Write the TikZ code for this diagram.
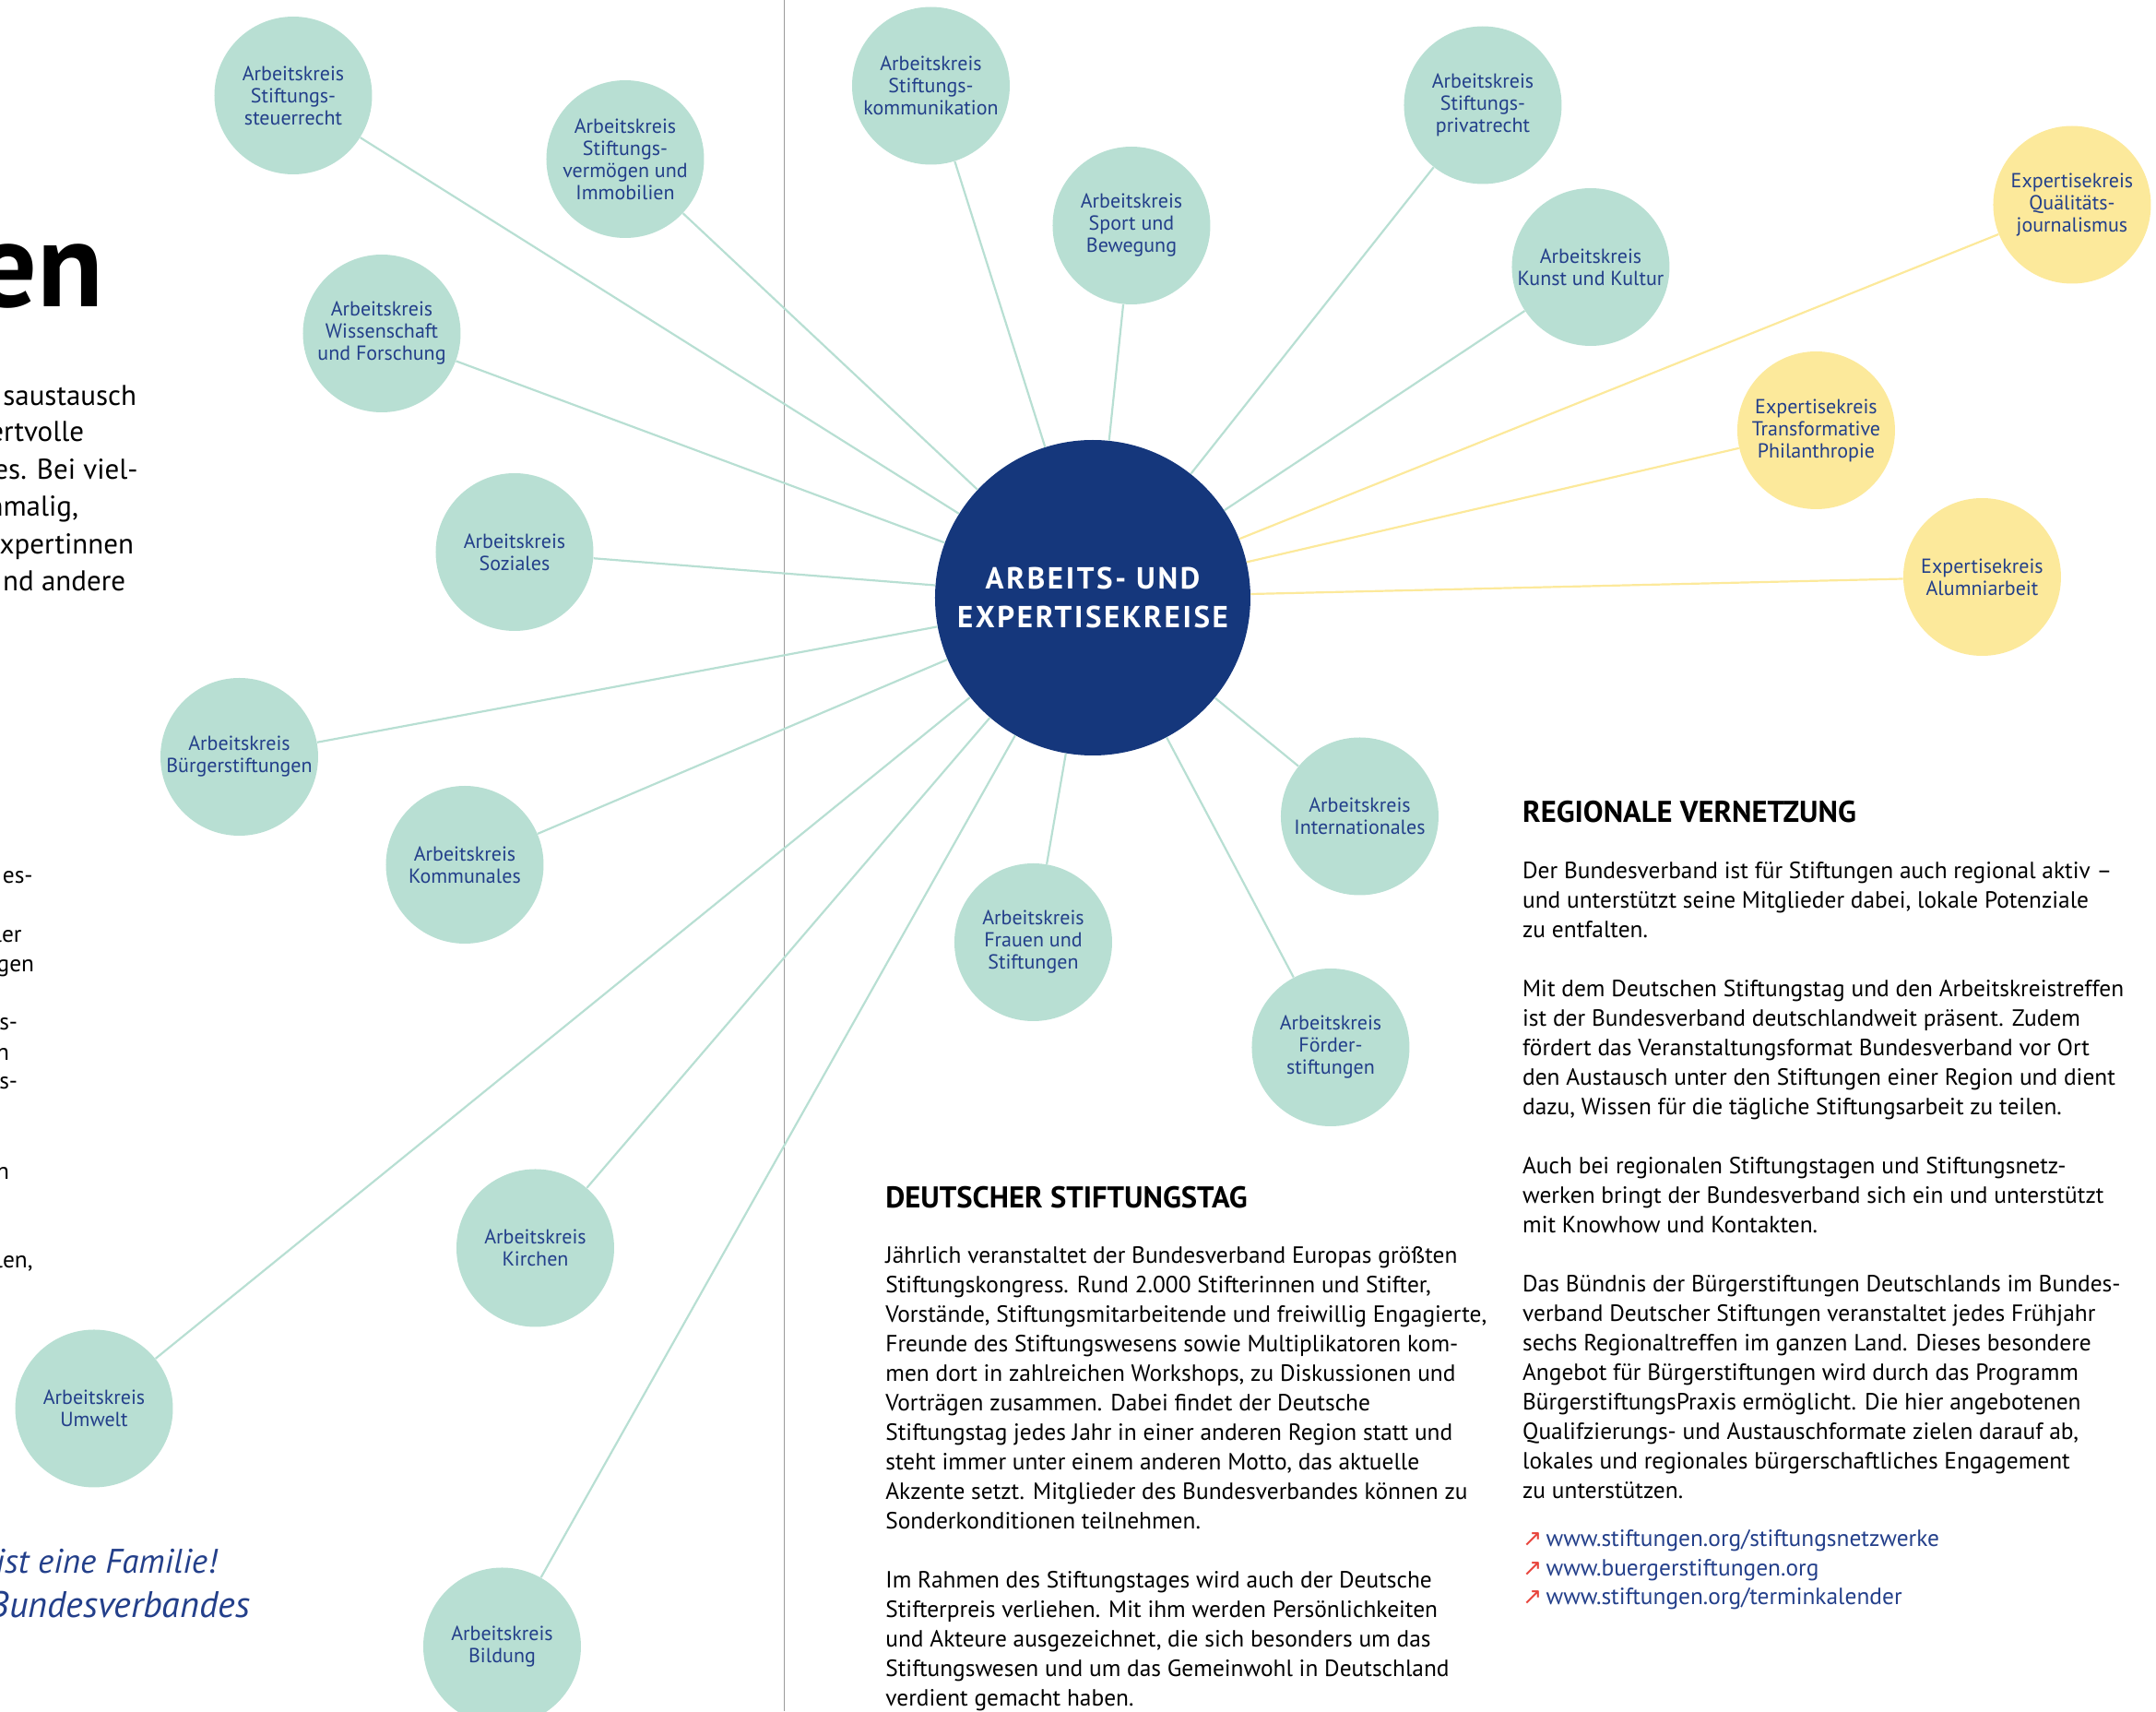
\documentclass[tikz,border=0pt]{standalone}
\usepackage{fontspec}
\setmainfont{PT Sans}
\newfontfamily\hubfont[LetterSpace=8.0]{PT Sans}
\newfontfamily\symfont{DejaVu Sans}
\definecolor{akgreen}{HTML}{B8DFD3}
\definecolor{akyellow}{HTML}{FCE99B}
\definecolor{aknavy}{HTML}{15377C}
\definecolor{aktext}{HTML}{233F8A}
\definecolor{akred}{HTML}{E8453C}
\definecolor{akgray}{HTML}{9B9B9B}
\begin{document}
\begin{tikzpicture}[x=0.75pt, y=-0.75pt,
  kreis/.style = {circle, minimum size=85.5pt, inner sep=0pt,
    fill=akgreen, text=aktext, align=center,
    font=\fontsize{11}{12}\selectfont},
  expkreis/.style = {kreis, fill=akyellow},
  hub/.style = {circle, minimum size=171pt, inner sep=0pt,
    fill=aknavy, text=white, align=center,
    font=\hubfont\bfseries\fontsize{16.5}{21}\selectfont},
  link/.style = {draw=akgreen, line width=1.1pt},
  explink/.style = {draw=akyellow, line width=1.1pt},
  fliess/.style = {anchor=base west, inner sep=0pt, align=left,
    font=\fontsize{12.7}{16}\selectfont},
  titel/.style = {anchor=base west, inner sep=0pt,
    font=\bfseries\fontsize{16.3}{18}\selectfont},
  rest/.style = {anchor=mid east, inner sep=0pt}]
  \useasboundingbox (0,0) rectangle (1558.7,1236.7);
  \clip (0,0) rectangle (1558.7,1236.7);
  \draw[akgray, line width=0.6pt] (567,0) -- (567,1236.7);

  % left page, cut off
  \node[anchor=base east, inner sep=0pt, font=\bfseries\fontsize{66}{70}\selectfont] (en) at (75,222) {en};
  \foreach \t/\x/\y in {saustausch/99/290, ertvolle/61/316, {es. Bei viel-}/100/343,
      {nmalig,}/57/370, xpertinnen/97/397, {nd andere}/91/424}
    \node[rest, font=\fontsize{15.5}{20}\selectfont] at (\x,\y) {\t};
  \foreach \t/\x/\y in {es-/24/635, ler/16/678, gen/25/699, s-/13/741,
      n/7/763, s-/13/784, n/7/849, {len,}/24/913}
    \node[rest, font=\fontsize{12.7}{16}\selectfont] at (\x,\y) {\t};
  \node[rest, text=aktext, font=\itshape\fontsize{18.5}{24}\selectfont] (familie) at (157,1134) {ist eine Familie!};
  \node[rest, text=aktext, font=\itshape\fontsize{20}{24}\selectfont] (verband) at (181,1166) {Bundesverbandes};

  % circles
  \node[hub] (hub) at (790,432) {ARBEITS- UND\\EXPERTISEKREISE};
  \node[kreis] (steuer) at (212,69) {Arbeitskreis\\Stiftungs-\\steuerrecht};
  \node[kreis] (vermoegen) at (452,115) {Arbeitskreis\\Stiftungs-\\vermögen und\\Immobilien};
  \node[kreis] (wissen) at (276,241) {Arbeitskreis\\Wissenschaft\\und Forschung};
  \node[kreis] (soziales) at (372,399) {Arbeitskreis\\Soziales};
  \node[kreis] (buerger) at (173,547) {Arbeitskreis\\Bürgerstiftungen};
  \node[kreis] (kommunal) at (336,625) {Arbeitskreis\\Kommunales};
  \node[kreis] (umwelt) at (68,1018) {Arbeitskreis\\Umwelt};
  \node[kreis] (kirchen) at (387,902) {Arbeitskreis\\Kirchen};
  \node[kreis] (bildung) at (363,1190) {Arbeitskreis\\Bildung};
  \node[kreis] (kommunikation) at (673,62) {Arbeitskreis\\Stiftungs-\\kommunikation};
  \node[kreis] (sport) at (818,163) {Arbeitskreis\\Sport und\\Bewegung};
  \node[kreis] (privat) at (1072,76) {Arbeitskreis\\Stiftungs-\\privatrecht};
  \node[kreis] (kunst) at (1150,193) {Arbeitskreis\\Kunst und Kultur};
  \node[kreis] (international) at (983,590) {Arbeitskreis\\Internationales};
  \node[kreis] (frauen) at (747,681) {Arbeitskreis\\Frauen und\\Stiftungen};
  \node[kreis] (foerder) at (962,757) {Arbeitskreis\\Förder-\\stiftungen};
  \node[expkreis] (journal) at (1498,148) {Expertisekreis\\Quälitäts-\\journalismus};
  \node[expkreis] (philanthropie) at (1313,311) {Expertisekreis\\Transformative\\Philanthropie};
  \node[expkreis] (alumni) at (1433,417) {Expertisekreis\\Alumniarbeit};

  \foreach \n in {steuer,vermoegen,wissen,soziales,buerger,kommunal,umwelt,kirchen,bildung,
      kommunikation,sport,privat,kunst,international,frauen,foerder}
    \draw[link] (hub) -- (\n);
  \foreach \n in {journal,philanthropie,alumni}
    \draw[explink] (hub) -- (\n);

  % text columns (base = last line)
  \node[titel] (tagtitel) at (640,873) {DEUTSCHER STIFTUNGSTAG};
  \node[fliess] (tagtext) at (640,1233.3) {Jährlich veranstaltet der Bundesverband Europas größten\\
    Stiftungskongress. Rund 2.000 Stifterinnen und Stifter,\\
    Vorstände, Stiftungsmitarbeitende und freiwillig Engagierte,\\
    Freunde des Stiftungswesens sowie Multiplikatoren kom-\\
    men dort in zahlreichen Workshops, zu Diskussionen und\\
    Vorträgen zusammen. Dabei findet der Deutsche\\
    Stiftungstag jedes Jahr in einer anderen Region statt und\\
    steht immer unter einem anderen Motto, das aktuelle\\
    Akzente setzt. Mitglieder des Bundesverbandes können zu\\
    Sonderkonditionen teilnehmen.\\[16pt]
    Im Rahmen des Stiftungstages wird auch der Deutsche\\
    Stifterpreis verliehen. Mit ihm werden Persönlichkeiten\\
    und Akteure ausgezeichnet, die sich besonders um das\\
    Stiftungswesen und um das Gemeinwohl in Deutschland\\
    verdient gemacht haben.};

  \node[titel] (regiotitel) at (1100.5,594.4) {REGIONALE VERNETZUNG};
  \node[fliess] (regiotext) at (1100.5,1083.3) {Der Bundesverband ist für Stiftungen auch regional aktiv –\\
    und unterstützt seine Mitglieder dabei, lokale Potenziale\\
    zu entfalten.\\[16pt]
    Mit dem Deutschen Stiftungstag und den Arbeitskreistreffen\\
    ist der Bundesverband deutschlandweit präsent. Zudem\\
    fördert das Veranstaltungsformat Bundesverband vor Ort\\
    den Austausch unter den Stiftungen einer Region und dient\\
    dazu, Wissen für die tägliche Stiftungsarbeit zu teilen.\\[16pt]
    Auch bei regionalen Stiftungstagen und Stiftungsnetz-\\
    werken bringt der Bundesverband sich ein und unterstützt\\
    mit Knowhow und Kontakten.\\[16pt]
    Das Bündnis der Bürgerstiftungen Deutschlands im Bundes-\\
    verband Deutscher Stiftungen veranstaltet jedes Frühjahr\\
    sechs Regionaltreffen im ganzen Land. Dieses besondere\\
    Angebot für Bürgerstiftungen wird durch das Programm\\
    BürgerstiftungsPraxis ermöglicht. Die hier angebotenen\\
    Qualifzierungs- und Austauschformate zielen darauf ab,\\
    lokales und regionales bürgerschaftliches Engagement\\
    zu unterstützen.};
  \node[fliess, text=aktext, font=\fontsize{12.7}{15.8}\selectfont] (links) at (1100.5,1160) {{\symfont\color{akred}↗}\,www.stiftungen.org/stiftungsnetzwerke\\
    {\symfont\color{akred}↗}\,www.buergerstiftungen.org\\
    {\symfont\color{akred}↗}\,www.stiftungen.org/terminkalender};
\end{tikzpicture}
\end{document}
